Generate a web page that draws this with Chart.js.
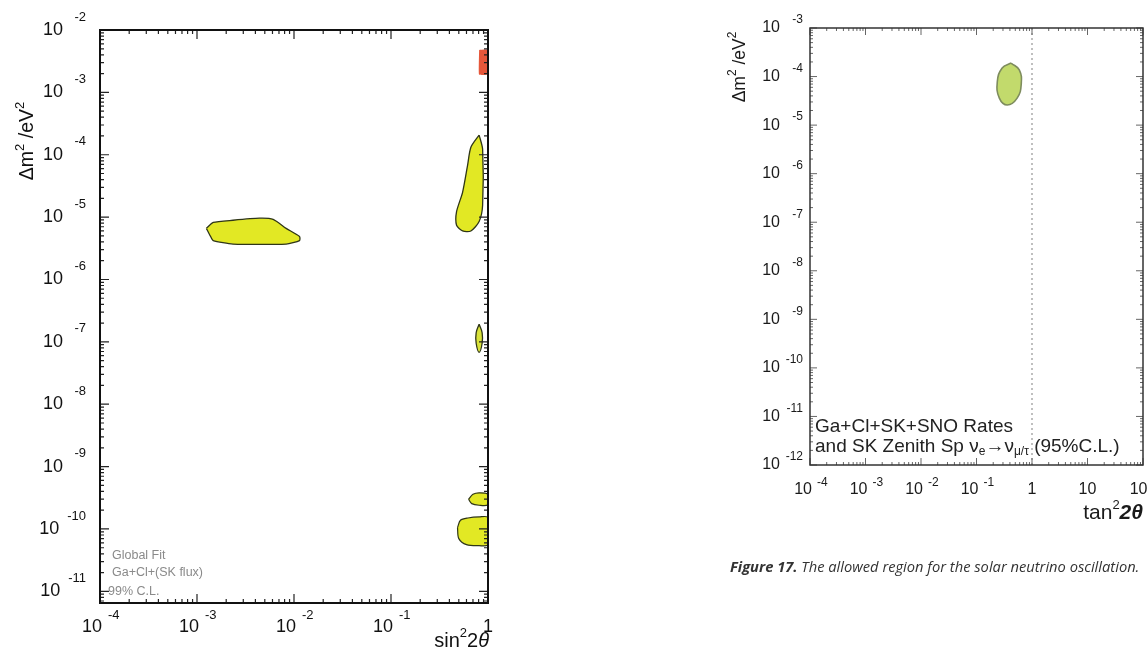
<!DOCTYPE html>
<html>
<head>
<meta charset="utf-8">
<script src="https://cdn.jsdelivr.net/npm/chart.js@4.4.0/dist/chart.umd.min.js"></script>
<style>
  html, body { margin: 0; padding: 0; background: #fff; width: 1147px; height: 650px; overflow: hidden; }
  #left { position: absolute; left: 0; top: 0; }
  #right { position: absolute; left: 680px; top: 0; }
  #caption { position: absolute; left: 730px; top: 556px; font: italic 14.7px 'Open Sans', sans-serif; color: #333; white-space: nowrap; }
</style>
</head>
<body>
<canvas id="left" width="520" height="650"></canvas>
<canvas id="right" width="467" height="650"></canvas>
<div id="caption"><b>Figure 17.</b> The allowed region for the solar neutrino oscillation.</div>
<script>
const SANS = "'Liberation Sans', Arial, sans-serif";

// ---- left panel: global fit, sin^2 2theta vs dm^2 (99% C.L.)
const leftXRange = [1e-4, 1];
const leftYRange = [6.5e-12, 1e-2];
const leftXExps = [-4, -3, -2, -1, 0];
const leftYExps = [-2, -3, -4, -5, -6, -7, -8, -9, -10, -11];

const lmaRegion = [[1.25e-3, 6.6e-6], [1.47e-3, 8.2e-6], [2.35e-3, 8.9e-6], [4.4e-3, 9.6e-6], [6.1e-3, 9.2e-6],
  [8.3e-3, 6.6e-6], [1.14e-2, 4.9e-6], [1.14e-2, 4.2e-6], [8.3e-3, 3.7e-6], [2.35e-3, 3.7e-6],
  [1.47e-3, 4.2e-6], [1.37e-3, 5.0e-6], [1.25e-3, 6.6e-6]];
const highRegion = [[0.81, 2.07e-4], [0.88, 1.23e-4], [0.88, 1.55e-5], [0.81, 8.5e-6], [0.666, 6.0e-6],
  [0.547, 6.0e-6], [0.474, 7.4e-6], [0.474, 1.22e-5], [0.547, 2.5e-5], [0.615, 6.7e-5], [0.666, 1.32e-4], [0.81, 2.07e-4]];
const smaRegion = [[0.81, 4.8e-3], [1, 4.8e-3], [1, 1.93e-3], [0.81, 1.93e-3], [0.81, 4.8e-3]];
const lowRegion = [[0.81, 1.92e-7], [0.87, 1.4e-7], [0.87, 9.5e-8], [0.81, 6.8e-8], [0.755, 9.5e-8], [0.755, 1.4e-7], [0.81, 1.92e-7]];
const lowInner = [[0.81, 1.6e-7], [0.84, 1.1e-7], [0.81, 8e-8], [0.78, 1.1e-7], [0.81, 1.6e-7]];
const vacRegionA = [[0.63, 3.0e-10], [0.7, 3.6e-10], [0.81, 3.8e-10], [1, 3.6e-10], [1, 2.45e-10], [0.81, 2.4e-10], [0.68, 2.55e-10], [0.63, 3.0e-10]];
const vacRegionB = [[0.485, 1.05e-10], [0.52, 1.38e-10], [0.62, 1.5e-10], [0.81, 1.56e-10], [1, 1.52e-10],
  [1, 5.6e-11], [0.81, 5.4e-11], [0.6, 5.6e-11], [0.5, 7e-11], [0.485, 1.05e-10]];
const vacInner = [[0.85, 9.5e-11], [0.95, 9.5e-11], [0.97, 8.3e-11], [0.95, 7.2e-11], [0.85, 7.2e-11], [0.83, 8.3e-11], [0.85, 9.5e-11]];

// ---- right panel: tan^2 2theta vs dm^2 (95% C.L.)
const rightXRange = [1e-4, 100];
const rightYRange = [1e-12, 1e-3];
const rightXExps = [-4, -3, -2, -1, 0, 1, 2];
const rightYExps = [-3, -4, -5, -6, -7, -8, -9, -10, -11, -12];

const rightRegion = [[0.42, 1.9e-4], [0.59, 1.37e-4], [0.64, 7.0e-5], [0.54, 3.6e-5], [0.359, 2.6e-5],
  [0.258, 3.6e-5], [0.237, 7.8e-5], [0.29, 1.5e-4], [0.42, 1.9e-4]];
const bestFit = [[0.36, 6.7e-5]];
const maximalMixing = [[1, 1e-12], [1, 1e-3]];

function region(pts, fill, line, width, tension) {
  return {
    data: pts.map(p => ({ x: p[0], y: p[1] })),
    showLine: true,
    fill: fill ? 'shape' : false,
    backgroundColor: fill || 'transparent',
    borderColor: line,
    borderWidth: width,
    pointRadius: 0,
    tension: tension
  };
}

function logTicks(s) {
  const out = [];
  for (let e = Math.floor(Math.log10(s.min)); e <= Math.log10(s.max); e++) {
    for (let m = 1; m < 10; m++) {
      const v = m * Math.pow(10, e);
      if (v >= s.min * 0.999 && v <= s.max * 1.001) out.push({ v: v, major: m === 1 });
    }
  }
  return out;
}

// draw a row of text pieces (for superscripts / subscripts / italics)
function drawRuns(ctx, runs, x, y, align, rotate) {
  let w = 0;
  runs.forEach(r => { ctx.font = r.f; r.w = ctx.measureText(r.t).width; w += r.w; });
  ctx.save();
  ctx.translate(x, y);
  if (rotate) ctx.rotate(-Math.PI / 2);
  let cx = align === 'right' ? -w : align === 'center' ? -w / 2 : 0;
  ctx.textAlign = 'left';
  runs.forEach(r => { ctx.font = r.f; ctx.fillText(r.t, cx, r.dy || 0); cx += r.w; });
  ctx.restore();
}

const logFrame = {
  id: 'logFrame',
  afterDraw(chart, args, o) {
    const ctx = chart.ctx, a = chart.chartArea, sx = chart.scales.x, sy = chart.scales.y;
    ctx.save();
    ctx.strokeStyle = o.tickColor;
    ctx.lineWidth = o.tickWidth;
    ctx.beginPath();
    logTicks(sx).forEach(t => {
      const px = sx.getPixelForValue(t.v), len = t.major ? o.major : o.minor;
      ctx.moveTo(px, a.bottom); ctx.lineTo(px, a.bottom - len);
      ctx.moveTo(px, a.top); ctx.lineTo(px, a.top + len);
    });
    logTicks(sy).forEach(t => {
      const py = sy.getPixelForValue(t.v), len = t.major ? o.major : o.minor;
      ctx.moveTo(a.left, py); ctx.lineTo(a.left + len, py);
      ctx.moveTo(a.right, py); ctx.lineTo(a.right - len, py);
    });
    ctx.stroke();

    ctx.strokeStyle = o.frameColor;
    ctx.lineWidth = o.frameWidth;
    ctx.strokeRect(a.left, a.top, a.right - a.left, a.bottom - a.top);

    ctx.fillStyle = o.labelColor;
    ctx.textBaseline = 'middle';
    o.xExps.forEach(e => {
      const px = sx.getPixelForValue(Math.pow(10, e));
      if (e >= 0) {
        ctx.font = o.tenFont; ctx.textAlign = 'center';
        ctx.fillText(String(Math.pow(10, e)), px, a.bottom + o.xTenDy);
      } else {
        ctx.font = o.tenFont; ctx.textAlign = 'right';
        ctx.fillText('10', px + 2, a.bottom + o.xTenDy);
        ctx.font = o.expFont; ctx.textAlign = 'left';
        ctx.fillText('-' + Math.abs(e), px + o.xExpDx, a.bottom + o.xExpDy);
      }
    });
    o.yExps.forEach(e => {
      const py = sy.getPixelForValue(Math.pow(10, e));
      const exp = '-' + Math.abs(e);
      ctx.font = o.expFont; ctx.textAlign = 'right';
      const expLeft = a.left - o.yExpRight - ctx.measureText(exp).width;
      ctx.fillText(exp, a.left - o.yExpRight, py + o.yExpDy);
      ctx.font = o.tenFont;
      ctx.fillText('10', Math.min(a.left - o.yTenRight, expLeft - o.yGap), py);
    });

    (o.texts || []).forEach(tx => {
      ctx.fillStyle = tx.color || o.labelColor;
      drawRuns(ctx, tx.runs, tx.x, tx.y, tx.align, tx.rotate);
    });
    ctx.restore();
  }
};

function baseOptions(xRange, yRange, pad, frame) {
  return {
    responsive: false,
    animation: false,
    devicePixelRatio: 1,
    layout: { padding: pad },
    scales: {
      x: { type: 'logarithmic', min: xRange[0], max: xRange[1], display: false },
      y: { type: 'logarithmic', min: yRange[0], max: yRange[1], display: false }
    },
    plugins: { legend: { display: false }, tooltip: { enabled: false }, logFrame: frame }
  };
}

const YEL = '#e2e824', YEL_LINE = '#2f3618';

new Chart(document.getElementById('left'), {
  type: 'scatter',
  plugins: [logFrame],
  data: {
    datasets: [
      region(lmaRegion, YEL, YEL_LINE, 1.3, 0.2),
      region(highRegion, YEL, YEL_LINE, 1.3, 0.25),
      region(smaRegion, '#e6573a', 'rgba(0,0,0,0)', 0, 0.1),
      region(lowRegion, '#d9e23a', YEL_LINE, 1.3, 0.4),
      region(lowInner, null, '#5a6030', 1, 0.4),
      region(vacRegionA, YEL, YEL_LINE, 1.2, 0.3),
      region(vacRegionB, YEL, YEL_LINE, 1.2, 0.3),
      region(vacInner, null, YEL_LINE, 1, 0.4)
    ]
  },
  options: baseOptions(leftXRange, leftYRange, { left: 100, top: 30, right: 32, bottom: 47 }, {
    xExps: leftXExps, yExps: leftYExps,
    tickColor: '#222', tickWidth: 1.2, major: 9, minor: 4,
    frameColor: '#111', frameWidth: 2,
    labelColor: '#111',
    tenFont: '18px ' + SANS, expFont: '13px ' + SANS,
    xTenDy: 24, xExpDx: 8, xExpDy: 12,
    yExpRight: 14, yTenRight: 37, yGap: 8, yExpDy: -13,
    texts: [
      { x: 28, y: 141, align: 'center', rotate: true, runs: [
        { t: 'Δm', f: '19.5px ' + SANS }, { t: '2', f: '13px ' + SANS, dy: -8 },
        { t: ' /eV', f: '19.5px ' + SANS }, { t: '2', f: '13px ' + SANS, dy: -8 }] },
      { x: 489, y: 641, align: 'right', runs: [
        { t: 'sin', f: '20px ' + SANS }, { t: '2', f: '13px ' + SANS, dy: -8 },
        { t: '2', f: '20px ' + SANS }, { t: 'θ', f: 'italic 20px ' + SANS }] },
      { x: 112, y: 556, color: '#8a8a8a', runs: [{ t: 'Global Fit', f: '12.5px ' + SANS }] },
      { x: 112, y: 573, color: '#8a8a8a', runs: [{ t: 'Ga+Cl+(SK flux)', f: '12.5px ' + SANS }] },
      { x: 108, y: 592, color: '#8a8a8a', runs: [{ t: '99% C.L.', f: '12.5px ' + SANS }] }
    ]
  })
});

new Chart(document.getElementById('right'), {
  type: 'scatter',
  plugins: [logFrame],
  data: {
    datasets: [
      { data: maximalMixing.map(p => ({ x: p[0], y: p[1] })), showLine: true, borderColor: '#aaa',
        borderWidth: 1.5, borderDash: [2, 3], pointRadius: 0 },
      region(rightRegion, '#c2da6c', '#7e8c5e', 1.6, 0.45),
      { data: bestFit.map(p => ({ x: p[0], y: p[1] })), pointRadius: 1.8, backgroundColor: '#3a4a20', borderWidth: 0 }
    ]
  },
  options: baseOptions(rightXRange, rightYRange, { left: 130, top: 28, right: 3, bottom: 185 }, {
    xExps: rightXExps, yExps: rightYExps,
    tickColor: '#666', tickWidth: 1, major: 7, minor: 3,
    frameColor: '#333', frameWidth: 1.5,
    labelColor: '#1a1a1a',
    tenFont: '16px ' + SANS, expFont: '12px ' + SANS,
    xTenDy: 25, xExpDx: 7, xExpDy: 18,
    yExpRight: 7, yTenRight: 30, yGap: 2, yExpDy: -8,
    texts: [
      { x: 60, y: 67, align: 'center', rotate: true, runs: [
        { t: 'Δm', f: '17.5px ' + SANS }, { t: '2', f: '12px ' + SANS, dy: -7 },
        { t: ' /eV', f: '17.5px ' + SANS }, { t: '2', f: '12px ' + SANS, dy: -7 }] },
      { x: 463, y: 513, align: 'right', runs: [
        { t: 'tan', f: '21px ' + SANS }, { t: '2', f: '13px ' + SANS, dy: -8 },
        { t: '2θ', f: 'bold italic 21px ' + SANS }] },
      { x: 135, y: 427, color: '#222', runs: [{ t: 'Ga+Cl+SK+SNO Rates', f: '19px ' + SANS }] },
      { x: 135, y: 447, color: '#222', runs: [
        { t: 'and SK Zenith Sp ν', f: '19px ' + SANS }, { t: 'e', f: '12px ' + SANS, dy: 5 },
        { t: '→ν', f: '19px ' + SANS }, { t: 'μ/τ', f: '12px ' + SANS, dy: 5 },
        { t: ' (95%C.L.)', f: '19px ' + SANS }] }
    ]
  })
});
</script>
</body>
</html>
